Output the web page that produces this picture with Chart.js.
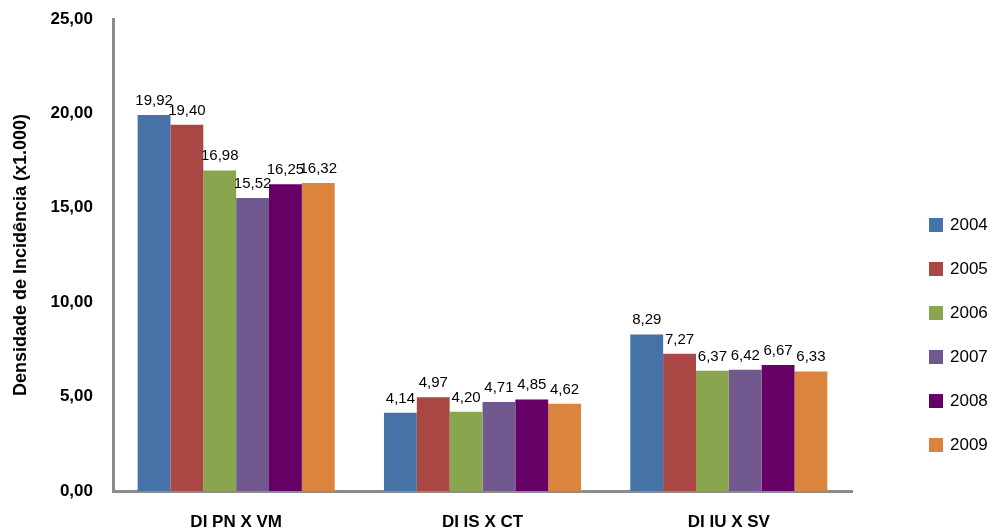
<!DOCTYPE html>
<html>
<head>
<meta charset="utf-8">
<script src="https://cdn.jsdelivr.net/npm/chart.js@4/dist/chart.umd.min.js"></script>
<style>
  html, body { margin: 0; padding: 0; background: #fff; }
  #wrap { width: 993px; height: 528px; position: relative; }
</style>
</head>
<body>
<div id="wrap"><canvas id="c" width="993" height="528"></canvas></div>
<script>
const categories = ['DI PN X VM', 'DI IS X CT', 'DI IU X SV'];
const years = ['2004', '2005', '2006', '2007', '2008', '2009'];
const v2004 = [19.92, 4.14, 8.29];
const v2005 = [19.40, 4.97, 7.27];
const v2006 = [16.98, 4.20, 6.37];
const v2007 = [15.52, 4.71, 6.42];
const v2008 = [16.25, 4.85, 6.67];
const v2009 = [16.32, 4.62, 6.33];
const yTicks = [0, 5, 10, 15, 20, 25];

const seriesValues = [v2004, v2005, v2006, v2007, v2008, v2009];
const colors = ['#4572A7', '#AA4643', '#89A54E', '#71588F', '#660066', '#DB843D'];
const FONT = '"Liberation Sans", Arial, sans-serif';

const fmt = v => v.toFixed(2).replace('.', ',');

// value labels above each bar
const valueLabels = {
  id: 'valueLabels',
  afterDatasetsDraw(chart) {
    const ctx = chart.ctx;
    ctx.save();
    ctx.font = '15px ' + FONT;
    ctx.fillStyle = '#000';
    ctx.textAlign = 'center';
    ctx.textBaseline = 'alphabetic';
    chart.data.datasets.forEach((ds, i) => {
      chart.getDatasetMeta(i).data.forEach((bar, j) => {
        ctx.fillText(fmt(ds.data[j]), bar.x, bar.y - 10);
      });
    });
    ctx.restore();
  }
};

// legend column on the right
const sideLegend = {
  id: 'sideLegend',
  afterDraw(chart) {
    const ctx = chart.ctx;
    ctx.save();
    ctx.font = '17px ' + FONT;
    ctx.textBaseline = 'middle';
    ctx.textAlign = 'left';
    chart.data.datasets.forEach((ds, i) => {
      const cy = 225 + i * 44;
      ctx.fillStyle = ds.backgroundColor;
      ctx.fillRect(929, cy - 7, 14, 14);
      ctx.fillStyle = '#000';
      ctx.fillText(ds.label, 950, cy);
    });
    ctx.restore();
  }
};

new Chart(document.getElementById('c'), {
  type: 'bar',
  data: {
    labels: categories,
    datasets: years.map((y, i) => ({
      label: y,
      data: seriesValues[i],
      backgroundColor: colors[i],
      borderWidth: 0,
      categoryPercentage: 0.8,
      barPercentage: 1.0
    }))
  },
  options: {
    responsive: false,
    animation: false,
    layout: { padding: { top: 19, right: 141, left: 0, bottom: 0 } },
    plugins: {
      legend: { display: false },
      tooltip: { enabled: false }
    },
    scales: {
      x: {
        grid: { display: false, drawTicks: false },
        border: { display: true, color: '#8c8c8c', width: 3 },
        ticks: {
          color: '#000',
          font: { family: FONT, size: 17, weight: 'bold' },
          padding: 21,
          maxRotation: 0
        },
        afterFit(s) { s.height = 37; s.paddingLeft = 0; s.paddingRight = 0; }
      },
      y: {
        min: 0,
        max: 25,
        afterBuildTicks(s) { s.ticks = yTicks.map(v => ({ value: v })); },
        grid: { display: false, drawTicks: false },
        border: { display: true, color: '#8c8c8c', width: 3 },
        ticks: {
          color: '#000',
          font: { family: FONT, size: 17, weight: 'bold' },
          padding: 20,
          callback: v => fmt(v)
        },
        title: {
          display: true,
          text: 'Densidade de Incidência (x1.000)',
          color: '#000',
          font: { family: FONT, size: 18, weight: 'bold' },
          padding: { top: 10, bottom: 0 }
        },
        afterFit(s) { s.width = 113; s.paddingTop = 0; s.paddingBottom = 0; }
      }
    }
  },
  plugins: [valueLabels, sideLegend]
});
</script>
</body>
</html>
